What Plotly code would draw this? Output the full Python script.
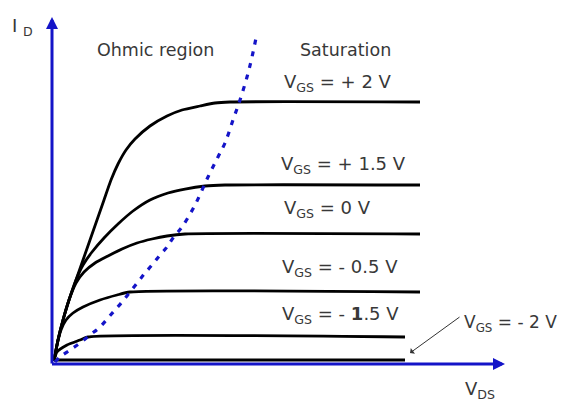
import plotly.graph_objects as go

# curve data (V_DS, I_D in arbitrary drawing units)
vgs_labels = ["+ 2 V", "+ 1.5 V", "0 V", "- 0.5 V", "- <b>1</b>.5 V", "- 2 V"]

vds_p20 = [2, 6, 11, 17, 24, 31, 38, 45, 52, 59, 66, 74, 83, 98, 115, 130, 148, 163, 178, 368]
id_p20 = [3, 24, 44, 64, 84, 104, 124, 144, 164, 184, 200, 214, 225, 238, 248, 254, 258, 261, 262, 262]

vds_p15 = [2, 6, 11, 17, 24, 31, 40, 52, 66, 81, 98, 116, 133, 153, 173, 368]
id_p15 = [3, 24, 44, 64, 84, 99, 112, 126, 140, 153, 164, 171, 175, 178, 179, 179]

vds_0 = [2, 6, 11, 17, 24, 32, 43, 56, 70, 85, 100, 115, 133, 368]
id_0 = [3, 24, 44, 64, 81, 92, 101, 108, 115, 121, 125, 128, 130, 130]

vds_m05 = [2, 5, 9, 14, 21, 31, 48, 65, 78, 368]
id_m05 = [3, 19, 34, 44, 51, 57, 64, 69, 72, 72]

vds_m15 = [2, 5, 15, 28, 36, 353]
id_m15 = [3, 12, 19, 24, 27, 27]

vds_m20 = [2, 353]
id_m20 = [4, 4]

# boundary between ohmic and saturation region
vds_pinch = [3, 8, 18, 28, 38, 48, 56, 63, 70, 78, 86, 93, 100, 108, 115, 121,
             130, 143, 156, 166, 173, 181, 188, 195, 200, 205]
id_pinch = [2, 7, 14, 21, 29, 37, 46, 54, 62, 72, 82, 91, 99, 109, 117, 126,
            137, 159, 187, 207, 221, 244, 264, 287, 307, 331]

curves = [(vds_p20, id_p20), (vds_p15, id_p15), (vds_0, id_0),
          (vds_m05, id_m05), (vds_m15, id_m15), (vds_m20, id_m20)]

BLUE = "#1414c8"
TXT = "#383838"
FONT = "DejaVu Sans, Liberation Sans, sans-serif"

fig = go.Figure()

for xs, ys in curves:
    fig.add_trace(go.Scatter(x=xs, y=ys, mode="lines",
                             line=dict(color="black", width=2.8, shape="spline", smoothing=0.6),
                             hoverinfo="skip"))

fig.add_trace(go.Scatter(x=vds_pinch, y=id_pinch, mode="lines",
                         line=dict(color=BLUE, width=3.2, dash="5px,7px", shape="spline"),
                         hoverinfo="skip"))

# axes with arrowheads
fig.add_annotation(x=0, y=347, ax=0, ay=-1, xref="x", yref="y", axref="x", ayref="y",
                   showarrow=True, arrowhead=2, arrowsize=0.8, arrowwidth=3, arrowcolor=BLUE, text="")
fig.add_annotation(x=453, y=0, ax=-1.5, ay=0, xref="x", yref="y", axref="x", ayref="y",
                   showarrow=True, arrowhead=2, arrowsize=0.8, arrowwidth=3, arrowcolor=BLUE, text="")

def label(x, y, text, size=18):
    fig.add_annotation(x=x, y=y, xref="x", yref="y", text=text, showarrow=False,
                       xanchor="left", yanchor="middle",
                       font=dict(family=FONT, size=size, color=TXT))

label(-42, 337, "I <sub>D</sub>")
label(43, 314, "Ohmic region", 17.5)
label(246, 314, "Saturation", 17.5)

label_pos = [(230, 281), (227, 199), (230, 155), (228, 96), (228, 49)]
for (x, y), t in zip(label_pos, vgs_labels[:5]):
    label(x, y, "V<sub>GS</sub> = " + t)

label(410, 41, "V<sub>GS</sub> = " + vgs_labels[5], 17)
fig.add_annotation(x=358, y=11, ax=409, ay=48, xref="x", yref="y", axref="x", ayref="y",
                   showarrow=True, arrowhead=1, arrowsize=1.2, arrowwidth=1, arrowcolor="#333",
                   text="")

label(411, -26, "V<sub>DS</sub>")

# page body has an 8px margin, so the figure is 8px smaller and shifted
fig.update_layout(
    width=561, height=393,
    margin=dict(l=0, r=0, t=0, b=0),
    paper_bgcolor="white", plot_bgcolor="white",
    showlegend=False,
    xaxis=dict(range=[-44, 517], visible=False, fixedrange=True),
    yaxis=dict(range=[-37, 356], visible=False, fixedrange=True),
)

fig.write_html("out.html")
